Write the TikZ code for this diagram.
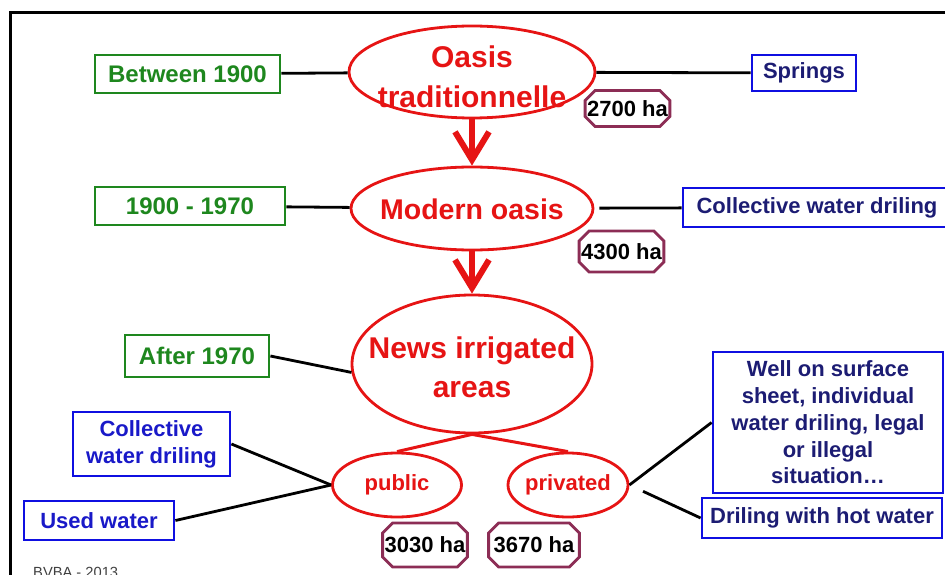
\documentclass[tikz,border=0pt]{standalone}
\usepackage{fontspec}
\setmainfont{Liberation Sans}
\usetikzlibrary{shapes.geometric,shapes.misc,arrows.meta}
\definecolor{dgreen}{RGB}{30,135,30}
\definecolor{bblue}{RGB}{15,15,225}
\definecolor{navy}{RGB}{28,28,115}
\definecolor{lblue}{RGB}{25,25,200}
\definecolor{ored}{RGB}{230,20,20}
\definecolor{octc}{RGB}{140,45,85}
\tikzset{
  boxbase/.style={draw, line width=2.8pt, inner sep=0pt, align=center},
  greenbox/.style={boxbase, draw=dgreen, text=dgreen, font=\bfseries\fontsize{24}{28}\selectfont},
  bluebox/.style={boxbase, draw=bblue, text=navy, font=\bfseries\fontsize{22}{26.75}\selectfont},
  oval/.style={ellipse, draw=ored, line width=2.8pt, inner sep=0pt},
  ovaltext/.style={text=ored, align=center, inner sep=0pt},
  octo/.style={chamfered rectangle, draw=octc, line width=2.8pt, chamfered rectangle xsep=7pt, chamfered rectangle ysep=3pt, inner xsep=-5pt, text=black, font=\bfseries\fontsize{22}{26}\selectfont},
  link/.style={line width=2.8pt, black},
  redlink/.style={line width=3pt, ored},
  bigarrow/.style={line width=6pt, ored, -{Straight Barb[length=28pt,width=34pt]}}
}
\begin{document}
\begin{tikzpicture}[x=1pt,y=-1pt]
\useasboundingbox (0,0) rectangle (945,575);
\draw[line width=3.5pt] (10.5,600) -- (10.5,12.5) -- (960,12.5);

% top level
\node[oval, minimum width=246pt, minimum height=92pt,
  label={[ovaltext, font=\bfseries\fontsize{30}{40}\selectfont, yshift=-5pt]center:{Oasis\\traditionnelle}}] (e1) at (472,72) {};
\node[greenbox, minimum width=185pt, minimum height=38pt] (g1) at (187.5,74) {Between 1900};
\node[bluebox, minimum width=104pt, minimum height=36pt] (s1) at (804,73) {Springs};
\node[octo, inner ysep=7pt] (h1) at (627.5,108.5) {2700 ha};

% second level
\node[oval, minimum width=242pt, minimum height=83pt,
  label={[ovaltext, font=\bfseries\fontsize{28.5}{34}\selectfont, yshift=-1pt]center:{Modern oasis}}] (e2) at (472,208.5) {};
\node[greenbox, minimum width=190pt, minimum height=38pt] (g2) at (190,206) {1900 - 1970};
\node[bluebox, minimum width=268pt, minimum height=39pt] (c1) at (817,207.5) {Collective water driling};
\node[octo, inner ysep=9.5pt] (h2) at (621.5,251.5) {4300 ha};

% third level
\node[oval, minimum width=240pt, minimum height=138pt,
  label={[ovaltext, font=\bfseries\fontsize{30}{39}\selectfont, yshift=-3pt]center:{News irrigated\\areas}}] (e3) at (472,364) {};
\node[greenbox, minimum width=144pt, minimum height=42pt] (g3) at (197,356) {After 1970};

% public / privated
\node[oval, minimum width=129pt, minimum height=64pt,
  label={[ovaltext, font=\bfseries\fontsize{22}{26}\selectfont]center:{public}}] (pub) at (397,485) {};
\node[oval, minimum width=120pt, minimum height=64pt,
  label={[ovaltext, font=\bfseries\fontsize{22}{26}\selectfont]center:{privated}}] (priv) at (568,485) {};

\node[bluebox, text=lblue, minimum width=157pt, minimum height=64pt] (c2) at (151.5,444) {Collective\\water driling};
\node[bluebox, text=lblue, minimum width=150pt, minimum height=39pt] (u1) at (99,520.5) {Used water};
\node[bluebox, minimum width=230pt, minimum height=141pt] (w1) at (828,422.5) {Well on surface\\sheet, individual\\water driling, legal\\or illegal\\situation\dots};
\node[bluebox, minimum width=240pt, minimum height=40pt] (d1) at (822,518) {Driling with hot water};

\node[octo, inner ysep=11pt] (h3) at (425,545) {3030 ha};
\node[octo, inner xsep=-2pt, inner ysep=11pt] (h4) at (534,545) {3670 ha};

\node[anchor=base west, inner sep=0pt, text=black!75, font=\fontsize{14.7}{16}\selectfont] (bv) at (33,577.5) {BVBA - 2013};

% connectors
\draw[link] (g1) -- (e1);
\draw[link] (e1) -- (s1);
\draw[link] (g2) -- (e2);
\draw[link, shorten <=5pt] (e2) -- (c1);
\draw[link] (g3.east) -- (e3.184);
\draw[link] (c2.east) -- (pub.west);
\draw[link] (u1.east) -- (pub.west);
\draw[link] (priv.east) -- (w1.west);
\draw[link, shorten <=15pt] (priv.east) -- (d1.west);

\draw[redlink] (e3.south) -- (pub.north);
\draw[redlink] (e3.south) -- (priv.north);

\draw[bigarrow] (e1.south) -- (e2.north);
\draw[bigarrow] (e2.south) -- (e3.north);
\end{tikzpicture}
\end{document}
